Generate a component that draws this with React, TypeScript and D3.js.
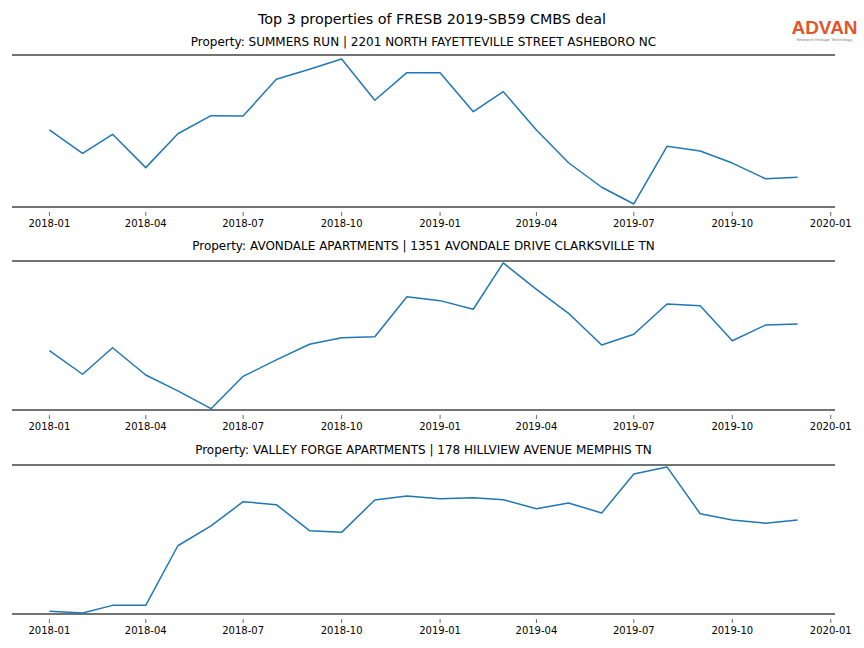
import React from "react";
import * as d3 from "d3";

const W = 864;
const H = 648;

const months: string[] = [
  "2018-01", "2018-02", "2018-03", "2018-04", "2018-05", "2018-06",
  "2018-07", "2018-08", "2018-09", "2018-10", "2018-11", "2018-12",
  "2019-01", "2019-02", "2019-03", "2019-04", "2019-05", "2019-06",
  "2019-07", "2019-08", "2019-09", "2019-10", "2019-11", "2019-12",
];

const tickLabels: string[] = [
  "2018-01", "2018-04", "2018-07", "2018-10",
  "2019-01", "2019-04", "2019-07", "2019-10", "2020-01",
];

const titles: string[] = [
  "Property: SUMMERS RUN | 2201 NORTH FAYETTEVILLE STREET ASHEBORO NC",
  "Property: AVONDALE APARTMENTS | 1351 AVONDALE DRIVE CLARKSVILLE TN",
  "Property: VALLEY FORGE APARTMENTS | 178 HILLVIEW AVENUE MEMPHIS TN",
];

// relative activity index (no y axis shown in the reference)
const summersRun: number[] = [
  50.7, 35.3, 47.8, 25.9, 48.2, 60.1, 59.9, 84.0, 90.6, 97.4, 70.2, 88.4,
  88.3, 62.7, 75.9, 50.7, 29.1, 13.0, 2.0, 39.9, 36.8, 28.9, 18.6, 19.5,
];
const avondale: number[] = [
  39.8, 24.0, 41.8, 23.5, 12.8, 0.9, 22.6, 33.6, 44.1, 48.5, 49.2, 76.0,
  73.4, 67.6, 98.7, 81.0, 64.9, 43.6, 50.8, 71.1, 70.0, 46.5, 57.0, 57.7,
];
const valleyForge: number[] = [
  1.8, 0.7, 5.8, 5.8, 45.8, 59.1, 75.4, 73.4, 55.9, 54.8, 76.5, 79.2,
  77.4, 78.1, 76.7, 70.7, 74.5, 67.8, 94.0, 98.7, 67.3, 63.1, 60.9, 63.1,
];

const seriesList: number[][] = [summersRun, avondale, valleyForge];

const parse = d3.timeParse("%Y-%m");

const panels = [
  { top: 55, bottom: 207, titleY: 46 },
  { top: 261, bottom: 410, titleY: 250 },
  { top: 465, bottom: 614, titleY: 454 },
];

const left = 12;
const right = 835;
const font = "'DejaVu Sans', sans-serif";

export default function App() {
  const dates = months.map((m) => parse(m) as Date);
  const d0 = dates[0].getTime();
  const d1 = dates[dates.length - 1].getTime();
  const pad = (d1 - d0) * 0.05;
  const x = d3
    .scaleTime()
    .domain([new Date(d0 - pad), new Date(d1 + pad)])
    .range([left, right]);

  return (
    <svg
      width={W}
      height={H}
      style={{ position: "absolute", left: 0, top: 0, background: "#fff" }}
      fontFamily={font}
    >
      <rect width={W} height={H} fill="#fff" />
      <text x={432} y={24} textAnchor="middle" fontSize={14.3} fill="#000">
        Top 3 properties of FRESB 2019-SB59 CMBS deal
      </text>
      {/* logo */}
      <g>
        <text
          x={824.5}
          y={34}
          textAnchor="middle"
          fontSize={19}
          fontWeight="bold"
          fontFamily="'Liberation Sans', Arial, sans-serif"
          fill="#e0552b"
        >
          ADVAN
        </text>
        <text x={824.5} y={40.5} textAnchor="middle" fontSize={3.8} fill="#777">
          Research through Technology
        </text>
      </g>
      {panels.map((p, i) => {
        const y = d3.scaleLinear().domain([0, 100]).range([p.bottom, p.top]);
        const line = d3
          .line<number>()
          .x((_, j) => x(dates[j]))
          .y((v) => y(v));
        return (
          <g key={i}>
            <text
              x={(left + right) / 2}
              y={p.titleY}
              textAnchor="middle"
              fontSize={12}
              fill="#000"
            >
              {titles[i]}
            </text>
            <line x1={left} x2={right} y1={p.top} y2={p.top} stroke="#444" strokeWidth={1.6} />
            <line x1={left} x2={right} y1={p.bottom} y2={p.bottom} stroke="#444" strokeWidth={1.6} />
            <path
              d={line(seriesList[i]) || ""}
              fill="none"
              stroke="#1f77b4"
              strokeWidth={1.5}
              strokeLinejoin="round"
            />
            {tickLabels.map((t) => {
              const tx = x(parse(t) as Date);
              return (
                <g key={t}>
                  <line
                    x1={tx}
                    x2={tx}
                    y1={p.bottom + 5}
                    y2={p.bottom + 9}
                    stroke="#444"
                    strokeWidth={0.8}
                  />
                  <text
                    x={tx}
                    y={p.bottom + 20}
                    textAnchor="middle"
                    fontSize={10}
                    fill="#000"
                  >
                    {t}
                  </text>
                </g>
              );
            })}
          </g>
        );
      })}
    </svg>
  );
}
